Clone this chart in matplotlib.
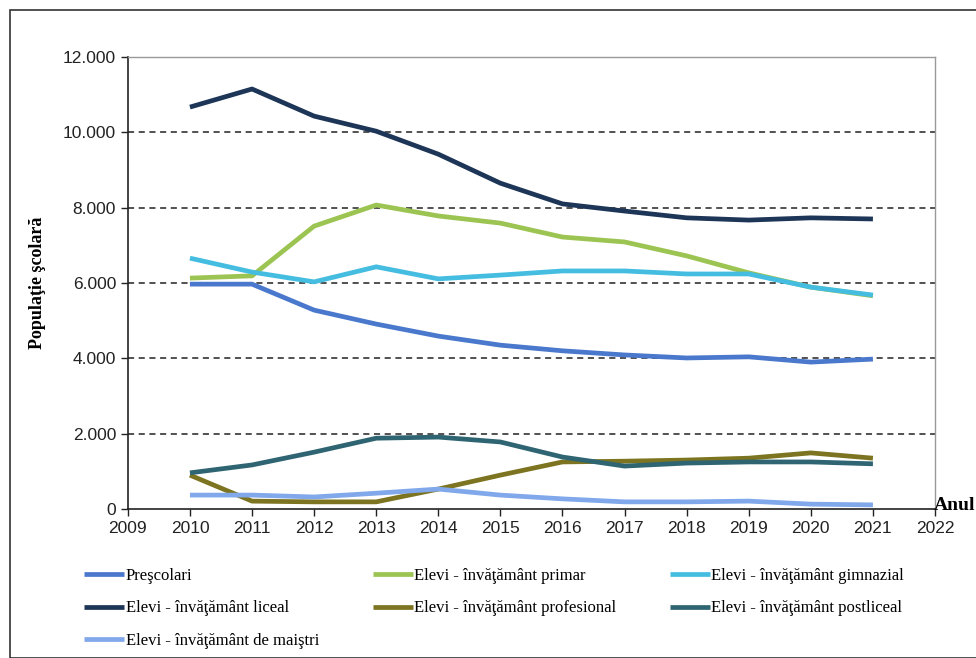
import matplotlib
matplotlib.use("Agg")
import matplotlib.pyplot as plt
from matplotlib.patches import Rectangle
from matplotlib.ticker import FuncFormatter, MultipleLocator

years = [2010, 2011, 2012, 2013, 2014, 2015, 2016, 2017, 2018, 2019, 2020, 2021]

prescolari = [5970, 5970, 5280, 4910, 4590, 4350, 4200, 4090, 4010, 4040, 3900, 3980]
primar = [6130, 6190, 7510, 8070, 7780, 7590, 7220, 7090, 6720, 6270, 5890, 5660]
gimnazial = [6660, 6290, 6030, 6430, 6110, 6210, 6320, 6320, 6240, 6240, 5890, 5680]
liceal = [10670, 11150, 10430, 10030, 9420, 8650, 8100, 7910, 7730, 7670, 7730, 7700]
profesional = [900, 210, 190, 190, 530, 900, 1250, 1270, 1300, 1350, 1490, 1350]
postliceal = [960, 1170, 1510, 1880, 1910, 1780, 1380, 1140, 1220, 1250, 1250, 1200]
maistri = [370, 370, 320, 420, 530, 370, 270, 190, 190, 210, 130, 110]

labels = [
    "Preşcolari",
    "Elevi - învăţământ primar",
    "Elevi - învăţământ gimnazial",
    "Elevi - învăţământ liceal",
    "Elevi - învăţământ profesional",
    "Elevi - învăţământ postliceal",
    "Elevi - învăţământ de maiştri",
]
colors = ["#4a78cc", "#9cc452", "#45bde0", "#1d3556", "#7c7420", "#2f6572", "#80a8ea"]
series = [prescolari, primar, gimnazial, liceal, profesional, postliceal, maistri]

fig = plt.figure(figsize=(9.76, 6.58), dpi=100)
ax = fig.add_axes([0.131, 0.2264, 0.827, 0.687])

# outer frame around the whole chart
fig.patches.append(Rectangle((10 / 976, 0.0), 1.0, 1 - 10 / 658, transform=fig.transFigure,
                             fill=False, ec="#333333", lw=1.2))

lines = []
for vals, col, lab in zip(series, colors, labels):
    ln, = ax.plot(years, vals, color=col, lw=3.4, solid_capstyle="butt", label=lab, zorder=3)
    lines.append(ln)

ax.set_xlim(2009, 2022)
ax.set_ylim(0, 12000)
ax.xaxis.set_major_locator(MultipleLocator(1))
ax.yaxis.set_major_locator(MultipleLocator(2000))
ax.yaxis.set_major_formatter(FuncFormatter(lambda v, p: f"{int(v):,}".replace(",", ".")))

for y in range(2000, 12000, 2000):
    ax.axhline(y, color="#222222", lw=1.1, ls=(0, (4, 3)), zorder=1)

for side in ["top", "right"]:
    ax.spines[side].set_color("#999999")
    ax.spines[side].set_linewidth(1.0)
for side in ["left", "bottom"]:
    ax.spines[side].set_color("#222222")
    ax.spines[side].set_linewidth(1.2)

ax.tick_params(axis="both", direction="out", length=5, width=1, colors="#222222",
               labelsize=12.5)
for t in ax.get_xticklabels() + ax.get_yticklabels():
    t.set_fontfamily("Liberation Sans")

ax.set_ylabel("Populaţie şcolară", fontsize=13, fontweight="bold",
              fontfamily="Liberation Serif", labelpad=12)
fig.text(0.957, 0.232, "Anul", fontsize=14, fontweight="bold",
         fontfamily="Liberation Serif", ha="left", va="center")

# legend fills column by column, so order handles to read row by row
order = [0, 3, 6, 1, 4, 2, 5]
fig.legend(handles=[lines[i] for i in order], loc="upper left", bbox_to_anchor=(0.071, 0.16),
           ncol=3, frameon=False, prop={"family": "Liberation Serif", "size": 12},
           handlelength=2.4, handletextpad=0.1, columnspacing=3.2, labelspacing=1.0)

fig.savefig("out.png", dpi=100)
